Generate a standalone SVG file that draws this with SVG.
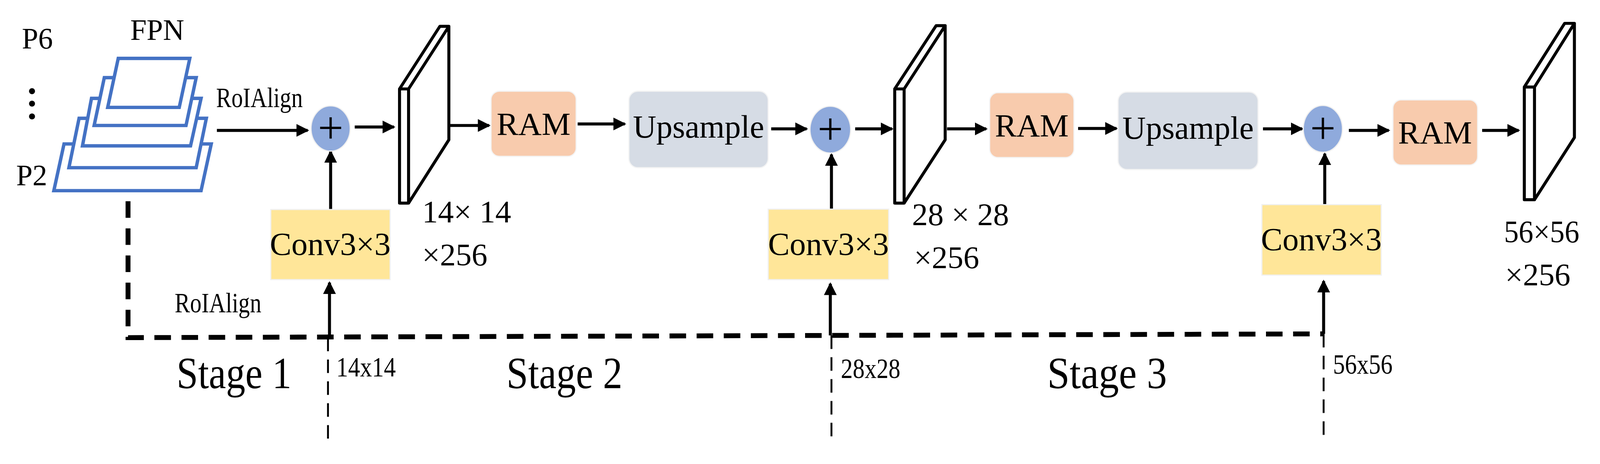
<svg xmlns="http://www.w3.org/2000/svg" width="4236" height="1187" viewBox="0 0 4236 1187">
<style>
text{font-family:"Liberation Serif","Times New Roman",serif;fill:#000}
.fpn{fill:#fff;stroke:#4472C4;stroke-width:9;stroke-linejoin:miter}
.arr{stroke:#000;stroke-width:8;fill:none;marker-end:url(#ah)}
.plate{fill:#fff;stroke:#000;stroke-width:8;stroke-linejoin:round}
.ram{fill:#F8CBAD;stroke:#f4f4f4;stroke-width:3}
.up{fill:#D6DCE5;stroke:#f4f4f4;stroke-width:3}
.conv{fill:#FFE699;stroke:#f0f0f0;stroke-width:3}
.sum{fill:#8FAADC;stroke:#f0f0f0;stroke-width:3}
.plus{font-size:120px;text-anchor:middle}
.lbl{font-size:86px;text-anchor:middle}
.dim{font-size:84px}
.small{font-size:74px}
.stage{font-size:118px}
.thick{stroke:#000;stroke-width:13;stroke-dasharray:44 28;fill:none}
.thin{stroke:#000;stroke-width:5;stroke-dasharray:36 22;fill:none}
</style>
<defs>
<marker id="ah" markerUnits="userSpaceOnUse" markerWidth="34" markerHeight="34" refX="30" refY="17" orient="auto"><path d="M0,0 L34,17 L0,34 Z" fill="#000"/></marker>
</defs>
<g transform="scale(0.964)">
<g id="fpn">
<text x="58" y="129" font-size="78">P6</text>
<text x="346" y="106" font-size="78">FPN</text>
<circle cx="85" cy="242" r="8"/><circle cx="85" cy="275" r="8"/><circle cx="85" cy="309" r="8"/>
<text x="43" y="492" font-size="78">P2</text>
<polygon class="fpn" points="143,506 534,506 561,382 170,382"/>
<polygon class="fpn" points="183,445 521,445 548,314 210,314"/>
<polygon class="fpn" points="219,387 506,387 534,261 243,261"/>
<polygon class="fpn" points="250,333 494,333 521,206 277,206"/>
<polygon class="fpn" points="286,285 476,285 504,155 314,155"/>
</g>

<g id="labels">
<text x="574" y="284" font-size="74" textLength="230" lengthAdjust="spacingAndGlyphs">RoIAlign</text>
<text x="464" y="829" font-size="74" textLength="230" lengthAdjust="spacingAndGlyphs">RoIAlign</text>
<text class="stage" x="469" y="1030" textLength="305" lengthAdjust="spacingAndGlyphs">Stage  1</text>
<text class="stage" x="1345" y="1030" textLength="308" lengthAdjust="spacingAndGlyphs">Stage  2</text>
<text class="stage" x="2781" y="1030" textLength="318" lengthAdjust="spacingAndGlyphs">Stage  3</text>
<text class="small" x="893" y="999" textLength="158" lengthAdjust="spacingAndGlyphs">14x14</text>
<text class="small" x="2233" y="1003" textLength="158" lengthAdjust="spacingAndGlyphs">28x28</text>
<text class="small" x="3540" y="992" textLength="158" lengthAdjust="spacingAndGlyphs">56x56</text>
<text class="dim" x="1121" y="590">14× 14</text>
<text class="dim" x="1121" y="704">×256</text>
<text class="dim" x="2422" y="598">28 × 28</text>
<text class="dim" x="2427" y="712">×256</text>
<text class="dim" x="3994" y="643" textLength="200" lengthAdjust="spacingAndGlyphs">56×56</text>
<text class="dim" x="3997" y="757">×256</text>
</g>

<g id="connectors">
<path class="thick" d="M340,534 V896 L3513,886"/>
<line class="thin" x1="871" y1="896" x2="871" y2="1170"/>
<line class="thin" x1="2208" y1="890" x2="2208" y2="1170"/>
<line class="thin" x1="3515" y1="886" x2="3515" y2="1170"/>
<line class="arr" x1="576" y1="346" x2="817" y2="346"/>
<line class="arr" x1="942" y1="337" x2="1046" y2="337"/>
<line class="arr" x1="1196" y1="333" x2="1299" y2="333"/>
<line class="arr" x1="878" y1="556" x2="878" y2="402"/>
<line class="arr" x1="875" y1="890" x2="875" y2="750"/>
<line class="arr" x1="1534" y1="329" x2="1659" y2="329"/>
<line class="arr" x1="2048" y1="342" x2="2142" y2="342"/>
<line class="arr" x1="2271" y1="342" x2="2369" y2="342"/>
<line class="arr" x1="2515" y1="342" x2="2619" y2="342"/>
<line class="arr" x1="2208" y1="555" x2="2208" y2="410"/>
<line class="arr" x1="2205" y1="890" x2="2205" y2="753"/>
<line class="arr" x1="2863" y1="341" x2="2965" y2="341"/>
<line class="arr" x1="3354" y1="342" x2="3458" y2="342"/>
<line class="arr" x1="3582" y1="346" x2="3688" y2="346"/>
<line class="arr" x1="3936" y1="346" x2="4033" y2="346"/>
<line class="arr" x1="3518" y1="543" x2="3518" y2="408"/>
<line class="arr" x1="3515" y1="886" x2="3515" y2="746"/>
</g>

<g id="sum1"><ellipse class="sum" cx="878" cy="341" rx="52" ry="60"/><text class="plus" x="878" y="380">+</text></g>
<g id="sum2"><ellipse class="sum" cx="2205" cy="344" rx="54" ry="62"/><text class="plus" x="2205" y="383">+</text></g>
<g id="sum3"><ellipse class="sum" cx="3513" cy="342" rx="52" ry="62"/><text class="plus" x="3513" y="381">+</text></g>

<g id="plate1"><path class="plate" d="M1061,236 H1085 V539 H1061 Z M1061,236 L1168,70 H1192 L1085,236 M1192,70 V371 L1085,539"/></g>
<g id="plate2"><path class="plate" d="M2376,236 H2401 V539 H2376 Z M2376,236 L2486,68 H2510 L2401,236 M2510,68 V371 L2401,539"/></g>
<g id="plate3"><path class="plate" d="M4048,231 H4075 V530 H4048 Z M4048,231 L4155,62 H4181 L4075,231 M4181,62 V365 L4075,530"/></g>

<g id="ram1"><rect class="ram" x="1304" y="242" width="226" height="173" rx="22"/><text class="lbl" x="1417" y="358">RAM</text></g>
<g id="ram2"><rect class="ram" x="2628" y="246" width="224" height="172" rx="22"/><text class="lbl" x="2740" y="362">RAM</text></g>
<g id="ram3"><rect class="ram" x="3699" y="265" width="225" height="173" rx="22"/><text class="lbl" x="3811" y="381">RAM</text></g>

<g id="up1"><rect class="up" x="1670" y="242" width="370" height="203" rx="24"/><text class="lbl" x="1855" y="365">Upsample</text></g>
<g id="up2"><rect class="up" x="2969" y="244" width="372" height="206" rx="24"/><text class="lbl" x="3155" y="368">Upsample</text></g>

<g id="conv1"><rect class="conv" x="719" y="556" width="317" height="186"/><text class="lbl" x="877" y="676">Conv3×3</text></g>
<g id="conv2"><rect class="conv" x="2040" y="555" width="320" height="187"/><text class="lbl" x="2200" y="676">Conv3×3</text></g>
<g id="conv3"><rect class="conv" x="3351" y="543" width="317" height="187"/><text class="lbl" x="3509" y="664">Conv3×3</text></g>
</g>
</svg>
